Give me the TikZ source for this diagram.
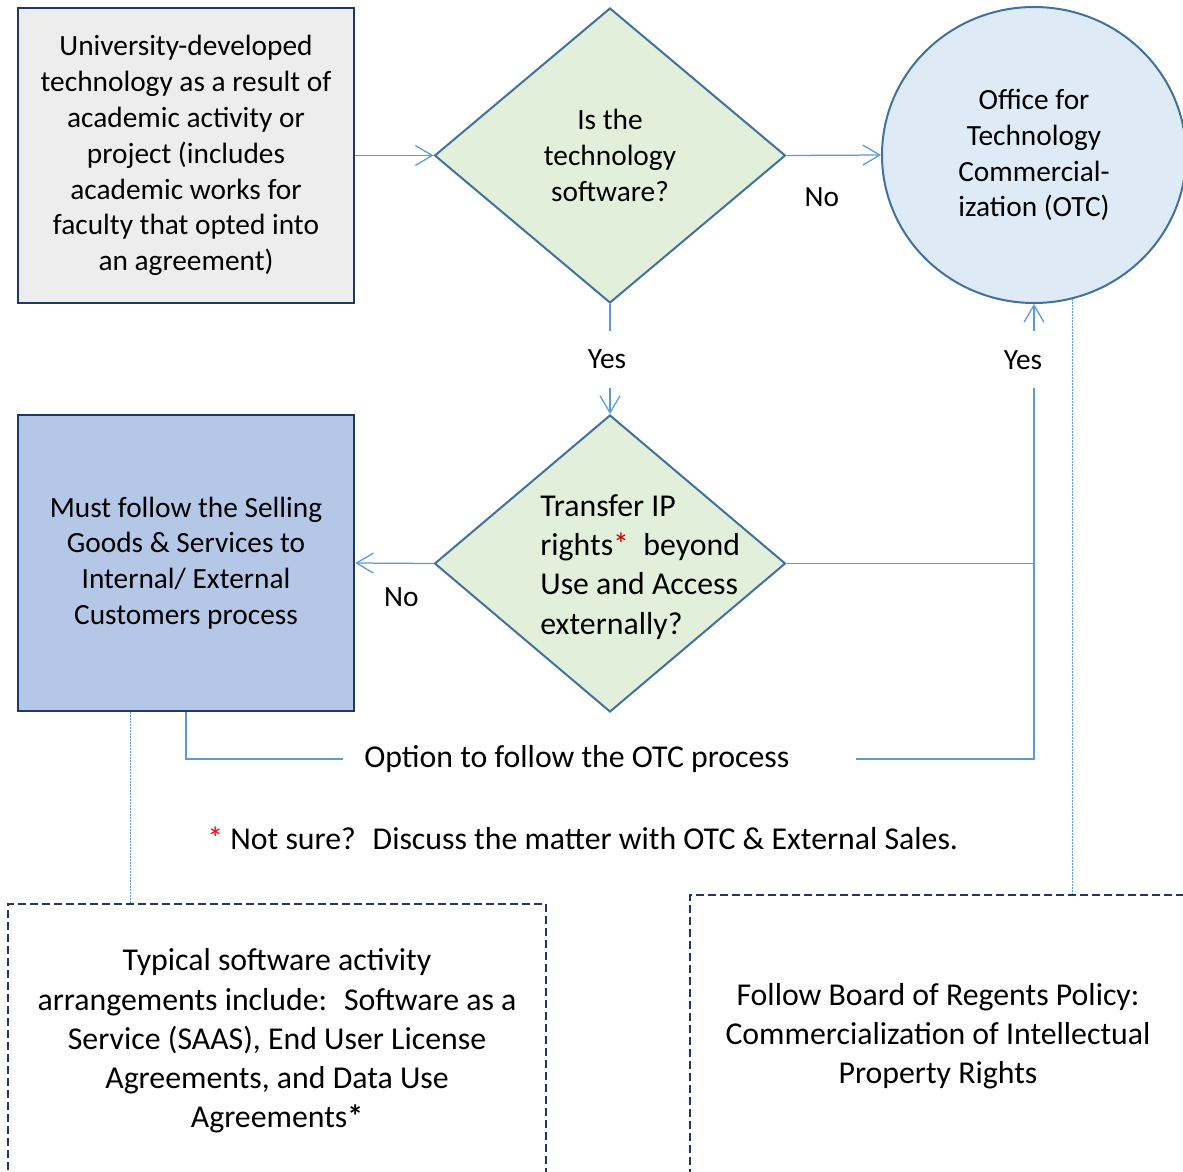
\documentclass[tikz,border=0pt]{standalone}
\usepackage{fontspec}
\setmainfont{Carlito}
\usetikzlibrary{shapes.geometric,arrows.meta,calc}

\definecolor{navy}{HTML}{1F3864}
\definecolor{edgeblue}{HTML}{41719C}
\definecolor{linkblue}{HTML}{5B9BD5}
\definecolor{greyfill}{HTML}{EDEDED}
\definecolor{greenfill}{HTML}{E2EFDA}
\definecolor{circfill}{HTML}{DEEBF7}
\definecolor{sellfill}{HTML}{B4C7E7}
\definecolor{starred}{HTML}{C00000}

\newcommand{\smallfnt}{\fontsize{16.7}{20.4}\selectfont}
\newcommand{\bigfnt}{\fontsize{18.1}{22.3}\selectfont}

\tikzset{
  procbox/.style={draw=navy, line width=0.5mm, minimum width=67.2mm, minimum height=59mm, align=center, font=\smallfnt},
  decision/.style={diamond, draw=edgeblue, fill=greenfill, line width=0.4mm, minimum width=70.2mm, minimum height=59mm, inner sep=0pt, align=center, font=\smallfnt},
  office/.style={ellipse, draw=edgeblue, fill=circfill, line width=0.4mm, minimum width=60.8mm, minimum height=59.2mm, inner sep=0pt, align=center, font=\smallfnt},
  notebox/.style={draw=navy, line width=0.5mm, dash pattern=on 1.6mm off 0.8mm, fill=white, align=center, font=\bigfnt},
  link/.style={draw=linkblue, line width=0.25mm},
  dotlink/.style={draw=linkblue, line width=0.2mm, dash pattern=on 0.4mm off 0.2mm},
  gaplabel/.style={fill=white, inner xsep=1mm, minimum height=11.4mm, font=\smallfnt},
  edgetext/.style={font=\smallfnt}
}

\begin{document}
\begin{tikzpicture}[x=0.2mm, y=-0.2mm, >={Straight Barb[length=3.4mm,width=4mm]}]
\useasboundingbox (0,0) rectangle (1183,1172);

\node[procbox, fill=greyfill] (tech) at (186,155.5) {University-developed\\technology as a result of\\academic activity or\\project (includes\\academic works for\\faculty that opted into\\an agreement)};
\node[decision] (isSw) at (610,155.5) {Is the\\technology\\software?};
\node[office] (otc) at (1034,155) {Office for\\Technology\\Commercial-\\ization (OTC)};

\node[procbox, fill=sellfill, minimum height=59.2mm] (sell) at (186,563) {Must follow the Selling\\Goods \& Services to\\Internal/ External\\Customers process};
\node[decision, minimum height=59.4mm] (ipQ) at (610,563.5) {};
\node[anchor=west, inner sep=0pt, align=left, font=\bigfnt] (ipText) at (540,567) {Transfer IP\\rights{\color{starred}*}~ beyond\\Use and Access\\externally?};

\draw[link,->] (tech.east) -- (isSw.west);
\draw[link,->] (isSw.east) -- node[edgetext, pos=0.375, yshift=-8.4mm] (noOtc) {No} (otc.west);
\draw[link,->] (isSw.south) -- node[gaplabel, xshift=-0.6mm] (yesIp) {Yes} (ipQ.north);
\draw[link,->] (ipQ.west) -- node[edgetext, pos=0.41, yshift=-6.8mm] (noSell) {No} (sell.east);
\coordinate (join) at (otc.south |- ipQ.east);
\draw[link] (ipQ.east) -- (join);
\draw[link,->] (join) -- node[gaplabel, pos=0.785, xshift=-2.2mm] (yesOtc) {Yes} (otc.south);

\node[anchor=west, inner xsep=4.2mm, inner ysep=0pt, font=\bigfnt] (opt) at (343,759) {Option to follow the OTC process\hspace*{9mm}};
\draw[link] (sell.south) |- (opt.west);
\draw[link] (opt.east) -| (join);

\node[anchor=west, inner sep=0pt, font=\bigfnt] (note) at (207,838) {{\color{red}*} Not sure?~ Discuss the matter with OTC \& External Sales.};

\node[notebox, minimum width=107.6mm, minimum height=54.8mm] (swArr) at (277,1041) {Typical software activity\\arrangements include:~ Software as a\\Service (SAAS), End User License\\Agreements, and Data Use\\Agreements\textbf{*}};
\node[notebox, minimum width=99.2mm, minimum height=56.4mm] (bor) at (938,1036) {Follow Board of Regents Policy:\\Commercialization of Intellectual\\Property Rights};

\draw[dotlink] ($(sell.south)+(-56,0)$) coordinate (d1) -- (d1 |- swArr.north);
\draw[dotlink] (otc.-75) -- (otc.-75 |- bor.north);
\end{tikzpicture}
\end{document}
